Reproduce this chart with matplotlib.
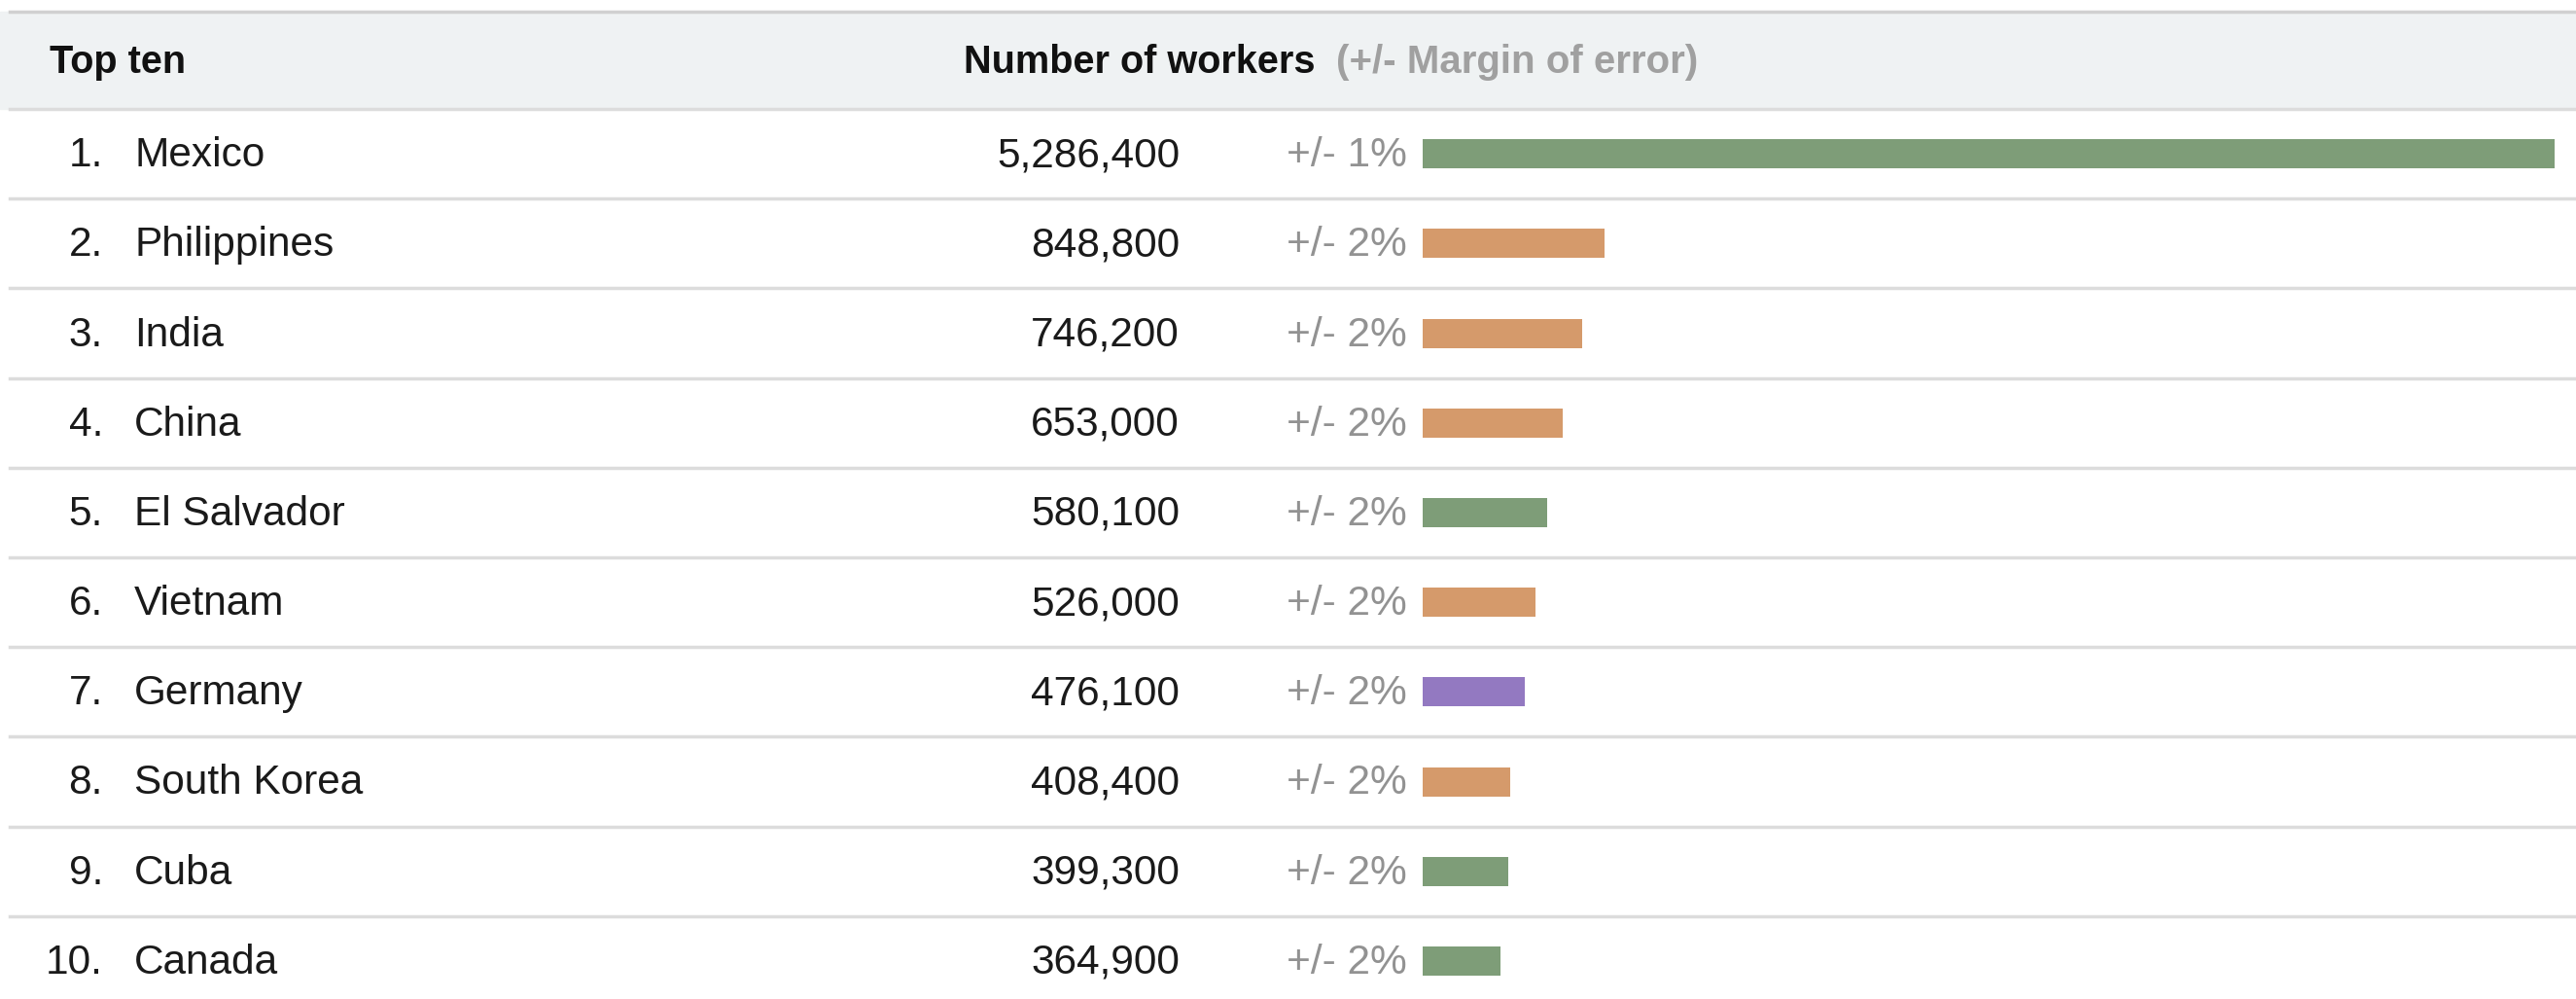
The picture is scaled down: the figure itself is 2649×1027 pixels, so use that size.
import matplotlib
matplotlib.use("Agg")
import matplotlib.pyplot as plt

plt.rcParams['font.family'] = ['Liberation Sans', 'DejaVu Sans']

countries = ["Mexico", "Philippines", "India", "China", "El Salvador",
             "Vietnam", "Germany", "South Korea", "Cuba", "Canada"]
workers = [5286400, 848800, 746200, 653000, 580100,
           526000, 476100, 408400, 399300, 364900]
margins = [1, 2, 2, 2, 2, 2, 2, 2, 2, 2]
regions = ["americas", "asia", "asia", "asia", "americas",
           "asia", "europe", "asia", "americas", "americas"]

region_colors = {"americas": "#7e9d78", "asia": "#d59a6b", "europe": "#9379c1"}

W, H = 2649, 1027
fig = plt.figure(figsize=(W / 100, H / 100), dpi=100)
ax = fig.add_axes([0, 0, 1, 1])
ax.set_xlim(0, W)
ax.set_ylim(H, 0)
ax.axis('off')

# layout in pixels
head_top, head_bot = 12, 112
row_h = 92.2
line_col = "#dcdcdc"

ax.axhspan(head_top, head_bot, color="#eff2f3", zorder=0)
ax.plot([10, W], [head_top, head_top], color="#d0d0d0", lw=2.5)
for k in range(len(countries)):
    y = head_bot + row_h * k
    ax.plot([10, W], [y, y], color=line_col, lw=2.5)

hy = (head_top + head_bot) / 2 + 2
ax.text(51, hy, "Top ten", fontsize=28.5, fontweight='bold', va='center', color="#111111")
t1 = ax.text(991, hy, "Number of workers", fontsize=28.5, fontweight='bold',
             va='center', color="#111111")
fig.canvas.draw()
bb = t1.get_window_extent()
x_end = ax.transData.inverted().transform((bb.x1, bb.y0))[0]
ax.text(x_end + 22, hy, "(+/- Margin of error)", fontsize=29, fontweight='bold',
        va='center', color="#a0a0a0")

centers = [head_bot + row_h * i + row_h / 2 for i in range(len(countries))]
for i, (c, w, m) in enumerate(zip(countries, workers, margins)):
    y = centers[i] + 2
    ax.text(106, y, f"{i + 1}.", fontsize=30.5, ha='right', va='center', color="#1a1a1a")
    ax.text(138, y, c, fontsize=30.5, ha='left', va='center', color="#1a1a1a")
    ax.text(1213, y, f"{w:,}", fontsize=30.5, ha='right', va='center', color="#1a1a1a")
    ax.text(1323, y, f"+/- {m}%", fontsize=30.5, ha='left', va='center', color="#929292")

# bars
bx = fig.add_axes([1463 / W, 0, 1164 / W, 1])
bx.set_xlim(0, max(workers))
bx.set_ylim(H, 0)
bx.axis('off')
bx.barh(centers, workers, height=30, left=0,
        color=[region_colors[r] for r in regions])

fig.savefig("out.png", dpi=100)
